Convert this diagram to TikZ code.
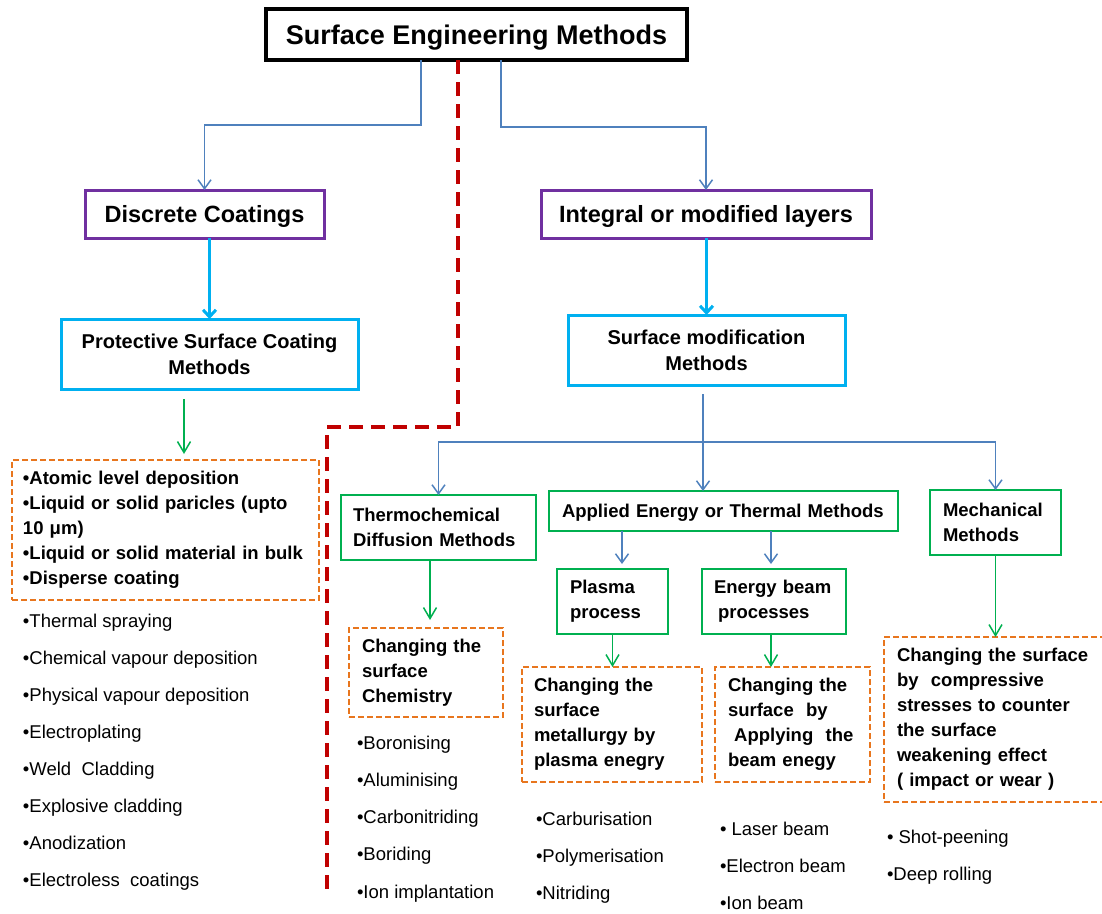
\documentclass[tikz,border=0pt]{standalone}
\usepackage{fontspec}
\setmainfont{Liberation Sans}
\usetikzlibrary{arrows.meta}
\definecolor{cblue}{RGB}{79,129,189}
\definecolor{ccyan}{RGB}{0,176,240}
\definecolor{cpurple}{RGB}{112,48,160}
\definecolor{cgreen}{RGB}{0,176,80}
\definecolor{corange}{RGB}{232,118,30}
\definecolor{cred}{RGB}{192,0,0}
\begin{document}
\begin{tikzpicture}[x=1pt,y=-1pt,
  every node/.style={outer sep=0pt},
  hdr/.style={draw, rectangle, inner sep=0pt, align=center},
  tbox/.style={draw, rectangle, inner ysep=0pt, align=left, font=\fontsize{18.5}{25}\selectfont\bfseries},
  gbox/.style={tbox, draw=cgreen, line width=2.5pt},
  obox/.style={tbox, draw=corange, line width=2.5pt, dash pattern=on 6pt off 3pt},
  lst/.style={anchor=base west, inner sep=0pt, font=\fontsize{18.5}{22}\selectfont},
  barrow/.style={draw=cblue, line width=1.5pt, -{Straight Barb[length=9pt,width=13pt]}},
  bline/.style={draw=cblue, line width=1.5pt},
  garrow/.style={draw=cgreen, line width=1.5pt, -{Straight Barb[length=11pt,width=13pt]}},
  carrow/.style={draw=ccyan, line width=3pt, -{Straight Barb[length=7pt,width=13pt]}},
  divider/.style={draw=cred, line width=3.5pt, dash pattern=on 14pt off 8pt}
]
\useasboundingbox (0,0) rectangle (1102,913);

% header boxes
\node[hdr, line width=3.5pt, minimum width=421pt, minimum height=51pt,
      font=\fontsize{27}{32}\selectfont\bfseries, text height=19.3pt, text depth=0pt]
      (top) at (476.5,34.5) {Surface Engineering Methods};
\node[hdr, draw=cpurple, line width=3pt, minimum width=239pt, minimum height=48pt,
      font=\fontsize{23.5}{28}\selectfont\bfseries, text height=16.8pt, text depth=0pt]
      (disc) at (204.5,214) {Discrete Coatings};
\node[hdr, draw=cpurple, line width=3pt, minimum width=330pt, minimum height=48pt,
      font=\fontsize{23.5}{28}\selectfont\bfseries, text height=16.8pt, text depth=0pt]
      (integ) at (706,214) {Integral or modified layers};
\node[hdr, draw=ccyan, line width=3pt, minimum width=297pt, minimum height=70pt,
      font=\fontsize{20}{26}\selectfont\bfseries]
      (prot) at (209.5,354) {Protective Surface Coating\\Methods};
\node[hdr, draw=ccyan, line width=3pt, minimum width=277pt, minimum height=70pt,
      font=\fontsize{20}{26}\selectfont\bfseries]
      (smod) at (706.5,350) {Surface modification\\Methods};

% left orange box
\node[obox, minimum width=307pt, minimum height=140pt, text width=285pt, inner xsep=11pt]
  (atom) at (165.5,530) {•Atomic level deposition\\•Liquid or solid paricles (upto\\10 μm)\\•Liquid or solid material in bulk\\•Disperse coating};

% green boxes
\node[gbox, minimum width=195pt, minimum height=65pt, text width=171pt, inner xsep=12pt]
  (thermo) at (438.5,527.5) {Thermochemical\\Diffusion Methods};
\node[gbox, minimum width=349pt, minimum height=40pt, text width=323pt, inner xsep=13pt,
      text height=13.3pt, text depth=0pt]
  (applied) at (723.5,511) {Applied Energy or Thermal Methods};
\node[gbox, minimum width=111pt, minimum height=65pt, text width=85pt, inner xsep=13pt]
  (plasma) at (612.5,601.5) {Plasma\\process};
\node[gbox, minimum width=144pt, minimum height=65pt, text width=120pt, inner xsep=12pt]
  (beam) at (774,601.5) {Energy beam\\\hspace*{4pt}processes};
\node[gbox, minimum width=131pt, minimum height=65pt, text width=105pt, inner xsep=13pt]
  (mech) at (995.5,522.5) {Mechanical\\Methods};

% orange boxes
\node[obox, minimum width=154pt, minimum height=89pt, text width=128pt, inner xsep=13pt]
  (chem) at (426,672.5) {Changing the\\surface\\Chemistry};
\node[obox, minimum width=180pt, minimum height=115pt, text width=156pt, inner xsep=12pt]
  (metal) at (612,724.5) {Changing the\\surface\\metallurgy by\\plasma enegry};
\node[obox, minimum width=155pt, minimum height=115pt, text width=129pt, inner xsep=13pt]
  (bch) at (792.5,724.5) {Changing the\\surface\ \ by\\\ Applying\ \ the\\beam enegy};
\node[obox, minimum width=231pt, minimum height=165pt, text width=205pt, inner xsep=13pt]
  (mch) at (999.5,719.5) {Changing the surface\\by\ \ compressive\\stresses to counter\\the surface\\weakening effect\\( impact or wear )};

% lists
\foreach \t [count=\i] in {Thermal spraying, Chemical vapour deposition, Physical vapour deposition,
  Electroplating, Weld\ \ Cladding, Explosive cladding, Anodization, Electroless\ \ coatings}
  \node[lst] (la\i) at (23,{627+37.14*(\i-1)}) {•\t};
\foreach \t [count=\i] in {Boronising, Aluminising, Carbonitriding, Boriding, Ion implantation}
  \node[lst] (lb\i) at (357,{749+37.3*(\i-1)}) {•\t};
\foreach \t [count=\i] in {Carburisation, Polymerisation, Nitriding}
  \node[lst] (lc\i) at (536,{825+37*(\i-1)}) {•\t};
\foreach \t [count=\i] in {\ Laser beam, Electron beam, Ion beam}
  \node[lst] (ld\i) at (720,{835+37*(\i-1)}) {•\t};
\foreach \t [count=\i] in {\ Shot-peening, Deep rolling}
  \node[lst] (le\i) at (887,{843+37*(\i-1)}) {•\t};

% connectors
\draw[barrow] ([xshift=-55.5pt]top.south) -- ++(0,65) -| (disc.north);
\draw[barrow] ([xshift=24.5pt]top.south) -- ++(0,67) -| (integ.north);
\draw[carrow] (disc.south -| prot.north) -- (prot.north);
\draw[carrow] (integ.south -| smod.north) -- (smod.north);
\draw[garrow, shorten >=6pt] ([xshift=-25.5pt,yshift=-10pt]prot.south) -- ([xshift=18.5pt]atom.north);

\draw[bline] ([xshift=-3.5pt,yshift=-9pt]smod.south) -- ++(0,48) coordinate (hub);
\draw[barrow] (hub) -| (thermo.north);
\draw[barrow] (hub) -| (mech.north);
\draw[barrow] (hub) -- (hub |- applied.north);

\draw[barrow, shorten >=5pt] ([xshift=-101.5pt]applied.south) coordinate (a1) -- (a1 |- plasma.north);
\draw[barrow, shorten >=5pt] ([xshift=47.5pt]applied.south) coordinate (a2) -- (a2 |- beam.north);

\draw[garrow, shorten >=8pt] ([xshift=-8.5pt]thermo.south) coordinate (g1) -- (g1 |- chem.north);
\draw[garrow] (plasma.south) -- (plasma.south |- metal.north);
\draw[garrow] ([xshift=-3pt]beam.south) coordinate (g2) -- (g2 |- bch.north);
\draw[garrow] (mech.south) -- (mech.south |- mch.north);

% red divider
\draw[divider] ([xshift=-18.5pt]top.south) -- ++(0,367) -- ++(-131,0) -- ++(0,462) coordinate (divend);
\end{tikzpicture}
\end{document}
